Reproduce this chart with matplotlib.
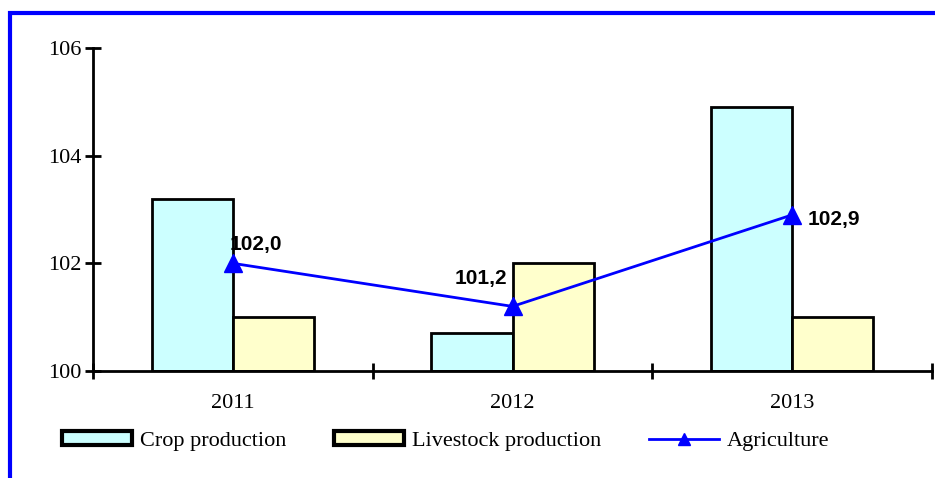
import matplotlib
matplotlib.use("Agg")
import matplotlib.pyplot as plt
import matplotlib.transforms as mtransforms
from matplotlib.patches import Rectangle
import numpy as np

years = ["2011", "2012", "2013"]
crop = [103.2, 100.7, 104.9]
livestock = [101.0, 102.0, 101.0]
agriculture = [102.0, 101.2, 102.9]
agri_labels = ["102,0", "101,2", "102,9"]
yticks = [100, 102, 104, 106]

W, H = 935, 478
fig = plt.figure(figsize=(W / 100, H / 100), dpi=100)
fig.patch.set_facecolor("white")

# blue frame (top and left visible)
fig.add_artist(Rectangle((9.5 / W, -0.1), 1.2, (H - 12.5) / H + 0.1, transform=fig.transFigure,
                         fill=False, edgecolor="#0000FF", linewidth=3, clip_on=False))

ax = fig.add_axes([93 / W, 1 - 371 / H, (932 - 93) / W, (371 - 48) / H])
x = np.arange(len(years))
bw = 0.29
ax.bar(x - bw / 2, np.array(crop) - 100, bw, bottom=100, color="#CCFFFF", edgecolor="black",
       linewidth=2, label="Crop production", zorder=2)
ax.bar(x + bw / 2, np.array(livestock) - 100, bw, bottom=100, color="#FFFFCC", edgecolor="black",
       linewidth=2, label="Livestock production", zorder=2)
ax.plot(x, agriculture, color="#0000FF", linewidth=2, marker="^", markersize=13,
        label="Agriculture", zorder=3)

px = 0.72
offsets = [(-3, 19, "left"), (-5, 28, "right"), (15, -5, "left")]
for i, (v, lab) in enumerate(zip(agriculture, agri_labels)):
    dx, dy, ha = offsets[i]
    ax.annotate(lab, (x[i], v), xytext=(dx * px, dy * px), textcoords="offset points",
                fontsize=15, fontweight="bold", family="Liberation Sans",
                ha=ha, va="center", zorder=4)

ax.set_xlim(-0.5, 2.5)
ax.set_ylim(100, 106)
ax.set_yticks(yticks)
ax.set_yticklabels([str(t) for t in yticks], family="Liberation Serif", fontsize=16)
ax.set_xticks([-0.5, 0.5, 1.5, 2.5])
ax.set_xticklabels([])
ax.tick_params(axis="both", direction="inout", length=11, width=2, color="black")
ax.tick_params(axis="y", pad=3)
blend = mtransforms.blended_transform_factory(ax.transData, fig.transFigure)
for i, y in enumerate(years):
    ax.text(x[i], 1 - 404 / H, y, transform=blend,
            ha="center", va="center", family="Liberation Serif", fontsize=16)
for s in ["top", "right"]:
    ax.spines[s].set_visible(False)
for s in ["left", "bottom"]:
    ax.spines[s].set_linewidth(2)

handles, labels = ax.get_legend_handles_labels()
order = [labels.index(l) for l in ["Crop production", "Livestock production", "Agriculture"]]
leg = fig.legend([handles[i] for i in order], [labels[i] for i in order],
                 loc="center left", bbox_to_anchor=(62 / W, 1 - 441 / H), ncol=3, frameon=False,
                 prop={"family": "Liberation Serif", "size": 16}, handlelength=3.15,
                 handleheight=0.62, columnspacing=2.15, handletextpad=0.35, borderpad=0,
                 borderaxespad=0)
for p in leg.get_patches():
    p.set_linewidth(3)
for h in leg.legend_handles:
    if hasattr(h, "set_markersize"):
        h.set_markersize(9)

fig.savefig("out.png", dpi=100, facecolor="white")
